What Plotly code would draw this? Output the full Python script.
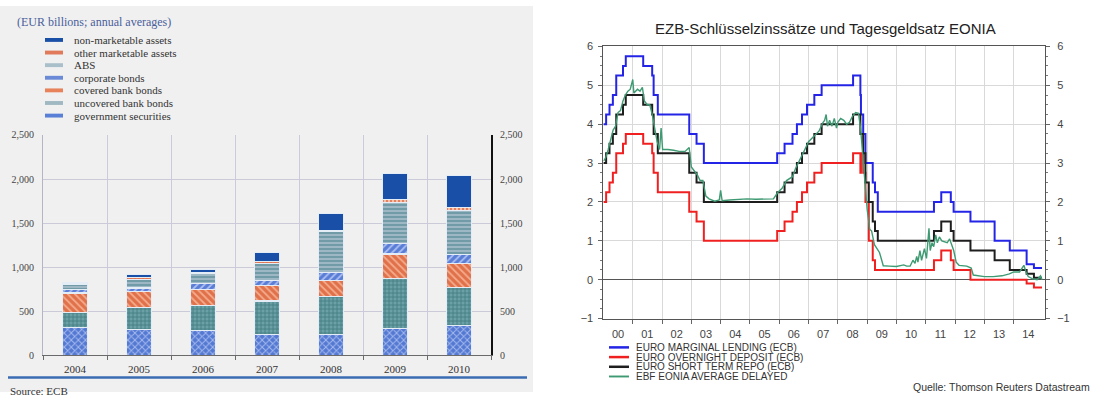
import plotly.graph_objects as go

# ---------------------------------------------------------------- data
# Left panel: Eurosystem collateral by asset type (EUR billions, annual averages)
years = ["2004", "2005", "2006", "2007", "2008", "2009", "2010"]
government_securities = [315, 295, 278, 233, 233, 307, 333]
uncovered_bank_bonds = [165, 245, 289, 382, 434, 567, 437]
covered_bank_bonds = [225, 185, 174, 174, 177, 274, 267]
corporate_bonds = [40, 37, 74, 63, 93, 122, 104]
abs_values = [60, 100, 111, 185, 463, 463, 500]
other_marketable = [5, 18, 15, 30, 19, 37, 40]
non_marketable = [15, 38, 33, 100, 185, 289, 356]

collateral_ticks = [0, 500, 1000, 1500, 2000, 2500]

# Right panel: ECB key rates (step changes) and EONIA
rate_dates = [
    "2000-01-01", "2000-02-04", "2000-03-17", "2000-04-28", "2000-06-09",
    "2000-09-01", "2000-10-06", "2001-05-11", "2001-08-31", "2001-09-18",
    "2001-11-09", "2002-12-06", "2003-03-07", "2003-06-06", "2005-12-06",
    "2006-03-08", "2006-06-15", "2006-08-09", "2006-10-11", "2006-12-13",
    "2007-03-14", "2007-06-13", "2008-07-09", "2008-10-08", "2008-10-15",
    "2008-11-12", "2008-12-10", "2009-01-21", "2009-03-11", "2009-04-08",
    "2009-05-13", "2011-04-13", "2011-07-13", "2011-11-09", "2011-12-14",
    "2012-07-11", "2013-05-08", "2013-11-13", "2014-06-11", "2014-09-10",
    "2014-12-20",
]
marginal_lending = [
    4.00, 4.25, 4.50, 4.75, 5.25, 5.50, 5.75, 5.50, 5.25, 4.75,
    4.25, 3.75, 3.50, 3.00, 3.25, 3.50, 3.75, 4.00, 4.25, 4.50,
    4.75, 5.00, 5.25, 4.75, 4.25, 3.75, 3.00, 3.00, 2.50, 2.25,
    1.75, 2.00, 2.25, 2.00, 1.75, 1.50, 1.00, 0.75, 0.40, 0.30,
    0.30,
]
overnight_deposit = [
    2.00, 2.25, 2.50, 2.75, 3.25, 3.50, 3.75, 3.50, 3.25, 2.75,
    2.25, 1.75, 1.50, 1.00, 1.25, 1.50, 1.75, 2.00, 2.25, 2.50,
    2.75, 3.00, 3.25, 2.75, 3.25, 2.75, 2.00, 1.00, 0.50, 0.25,
    0.25, 0.50, 0.75, 0.50, 0.25, 0.00, 0.00, 0.00, -0.10, -0.20,
    -0.20,
]
short_term_repo = [
    3.00, 3.25, 3.50, 3.75, 4.25, 4.50, 4.75, 4.50, 4.25, 3.75,
    3.25, 2.75, 2.50, 2.00, 2.25, 2.50, 2.75, 3.00, 3.25, 3.50,
    3.75, 4.00, 4.25, 3.75, 3.75, 3.25, 2.50, 2.00, 1.50, 1.25,
    1.00, 1.25, 1.50, 1.25, 1.00, 0.75, 0.50, 0.25, 0.15, 0.05,
    0.05,
]

eonia_dates = [
    "2000-01-03", "2000-02-01", "2000-03-01", "2000-04-01", "2000-05-01",
    "2000-06-01", "2000-07-01", "2000-08-01", "2000-09-01", "2000-10-01",
    "2000-11-01", "2000-12-01", "2001-01-01", "2001-01-15", "2001-03-01",
    "2001-04-01", "2001-05-01", "2001-05-25", "2001-07-01", "2001-08-01",
    "2001-09-01", "2001-10-01", "2001-11-01", "2001-12-01", "2001-12-20",
    "2002-01-08", "2002-03-15", "2002-05-25", "2002-08-01", "2002-10-15",
    "2002-12-05", "2003-01-01", "2003-02-05", "2003-03-15", "2003-04-20",
    "2003-05-25", "2003-07-01", "2003-08-10", "2003-10-20", "2003-12-15",
    "2004-01-01", "2004-01-20", "2004-04-20", "2004-08-10", "2004-11-25",
    "2005-03-15", "2005-07-01", "2005-10-20", "2005-12-15", "2006-02-05",
    "2006-04-01", "2006-06-15", "2006-07-20", "2006-09-10", "2006-11-05",
    "2007-01-01", "2007-03-15", "2007-05-10", "2007-07-01", "2007-07-20",
    "2007-08-08", "2007-08-25", "2007-09-20", "2007-10-20", "2007-11-18",
    "2007-12-15", "2008-01-01", "2008-02-05", "2008-03-15", "2008-04-20",
    "2008-05-25", "2008-07-01", "2008-08-10", "2008-09-15", "2008-10-12",
    "2008-11-08", "2008-12-05", "2009-01-01", "2009-02-01", "2009-02-25",
    "2009-04-01", "2009-05-08", "2009-06-03", "2009-07-01", "2009-07-20",
    "2009-10-01", "2010-01-01", "2010-04-01", "2010-05-08", "2010-06-20",
    "2010-07-25", "2010-08-20", "2010-09-10", "2010-09-25", "2010-10-20",
    "2010-11-10", "2010-12-15", "2011-01-10", "2011-02-10", "2011-02-25",
    "2011-03-20", "2011-04-10", "2011-05-05", "2011-05-25", "2011-06-20",
    "2011-07-20", "2011-08-25", "2011-09-25", "2011-10-25", "2011-11-20",
    "2011-12-15", "2012-01-15", "2012-02-20", "2012-05-25", "2012-07-20",
    "2012-08-15", "2012-10-20", "2013-01-01", "2013-04-20", "2013-08-08",
    "2013-11-08", "2014-01-01", "2014-03-15", "2014-05-08", "2014-06-03",
    "2014-07-01", "2014-08-25", "2014-10-20", "2014-12-01", "2014-12-20",
]
eonia_values = [
    3.05, 3.15, 3.35, 3.60, 3.85,
    3.95, 4.30, 4.35, 4.60, 4.75,
    4.85, 4.90, 5.15, 4.80, 4.90,
    4.85, 4.95, 4.60, 4.50, 4.50,
    4.25, 3.90, 3.55, 3.35, 3.90,
    3.35, 3.35, 3.33, 3.30, 3.30,
    3.40, 2.90, 2.80, 2.70, 2.55,
    2.55, 2.15, 2.08, 2.02, 2.05,
    2.30, 2.03, 2.05, 2.06, 2.08,
    2.07, 2.07, 2.08, 2.25, 2.35,
    2.55, 2.65, 2.85, 3.05, 3.30,
    3.55, 3.70, 3.82, 4.05, 4.10,
    4.25, 3.95, 4.10, 3.95, 4.15,
    3.90, 4.05, 4.15, 4.10, 4.00,
    4.05, 4.20, 4.30, 4.28, 3.85,
    3.20, 2.50, 1.80, 1.30, 1.25,
    0.90, 0.80, 0.70, 0.50, 0.36,
    0.35, 0.34, 0.38, 0.35, 0.35,
    0.50, 0.42, 0.60, 0.45, 0.75,
    0.50, 0.80, 0.55, 1.32, 0.75,
    0.95, 0.85, 1.15, 0.95, 1.10,
    1.00, 0.98, 0.95, 1.05, 0.90,
    0.75, 0.45, 0.37, 0.35, 0.30,
    0.12, 0.10, 0.08, 0.08, 0.10,
    0.15, 0.20, 0.20, 0.37, 0.20,
    0.08, 0.02, 0.00, 0.10, 0.00,
]

year_labels = ["00", "01", "02", "03", "04", "05", "06", "07",
               "08", "09", "10", "11", "12", "13", "14"]

# ---------------------------------------------------------------- helpers
W, H = 1095, 398


def px(x):
    return x / W


def py(y):
    return 1 - y / H


SERIF = "Liberation Serif"
SANS = "Liberation Sans"
GRID_L = "#cacad8"
GRID_R = "#d9d9d9"

fig = go.Figure()

# ---------------------------------------------------------------- left: stacked bars
bar_series = [
    ("government securities", government_securities, "x", "#5479d2", "#a6baee", 5, "#5a7fd6"),
    ("uncovered bank bonds", uncovered_bank_bonds, "+", "#6aa0a6", "#3f787f", 4, "#9fb8c2"),
    ("covered bank bonds", covered_bank_bonds, "\\", "#e0714a", "#f4ab8c", 5, "#e8825a"),
    ("corporate bonds", corporate_bonds, "/", "#5a7dd6", "#aabef0", 5, "#6a8ad8"),
    ("ABS", abs_values, "-", "#9db8c4", "#5f8e9c", 4, "#a9bfca"),
    ("other marketable assets", other_marketable, ".", "#e07550", "#f6c0a8", 4, "#e07a5a"),
    ("non-marketable assets", non_marketable, "", "#1a4fa8", "#1a4fa8", 4, "#1a4fa8"),
]

for name, vals, shape, bg, fg, size, _ in bar_series:
    fig.add_trace(go.Bar(
        x=years, y=vals, name=name, width=0.38,
        marker=dict(
            color=bg,
            line=dict(color="#e4ecf6", width=1.2),
            pattern=dict(shape=shape, bgcolor=bg, fgcolor=fg, size=size,
                         solidity=0.35, fillmode="replace"),
        ),
        showlegend=False, xaxis="x", yaxis="y",
    ))

# empty trace so the mirrored right-hand value axis gets drawn
fig.add_trace(go.Scatter(x=[None], y=[None], mode="lines", showlegend=False,
                         hoverinfo="skip", xaxis="x", yaxis="y3"))

# ---------------------------------------------------------------- right: rate lines
line_series = [
    ("EURO MARGINAL LENDING (ECB)", rate_dates, marginal_lending, "#2424e6", 2.0, "hv"),
    ("EURO OVERNIGHT DEPOSIT (ECB)", rate_dates, overnight_deposit, "#f02020", 2.0, "hv"),
    ("EURO SHORT TERM REPO (ECB)", rate_dates, short_term_repo, "#1e1e1e", 2.0, "hv"),
    ("EBF EONIA AVERAGE DELAYED", eonia_dates, eonia_values, "#3e9a72", 1.4, "linear"),
]

for name, xs, ys, color, width, lshape in line_series:
    fig.add_trace(go.Scatter(
        x=xs, y=ys, name=name, mode="lines",
        line=dict(color=color, width=width, shape=lshape),
        showlegend=False, xaxis="x2", yaxis="y2",
    ))

# empty trace so the right-hand percent axis gets drawn
fig.add_trace(go.Scatter(x=[None], y=[None], mode="lines", showlegend=False,
                         hoverinfo="skip", xaxis="x2", yaxis="y4"))

# ---------------------------------------------------------------- axes
mid_years = [f"20{lab}-07-02" for lab in year_labels]
year_starts = [f"20{lab}-01-01" for lab in year_labels[1:]]

fig.update_layout(
    width=W, height=H,
    margin=dict(l=0, r=0, t=0, b=0),
    paper_bgcolor="white",
    plot_bgcolor="rgba(0,0,0,0)",
    barmode="stack",
    showlegend=False,
    xaxis=dict(
        domain=[px(43), px(491)], anchor="y", type="category",
        range=[-0.5, 6.5], tickson="boundaries",
        showgrid=True, gridcolor=GRID_L, gridwidth=1,
        showline=True, linecolor="#6a6a6a", linewidth=1,
        ticks="outside", ticklen=4, tickcolor="#6a6a6a",
        ticklabelstandoff=4,
        tickfont=dict(family=SERIF, size=11, color="#333"),
        zeroline=False, fixedrange=True,
    ),
    yaxis=dict(
        domain=[py(360), py(133)], anchor="x",
        range=[0, 2500], tickvals=collateral_ticks, tickformat=",d",
        showgrid=True, gridcolor=GRID_L, gridwidth=1,
        showline=True, linecolor="#b4b4c4", linewidth=1,
        ticks="", ticklabelstandoff=6,
        tickfont=dict(family=SERIF, size=10, color="#444"),
        zeroline=False,
    ),
    yaxis3=dict(
        overlaying="y", side="right", anchor="x",
        range=[0, 2500], tickvals=collateral_ticks, tickformat=",d",
        showgrid=False, showline=True, linecolor="#111", linewidth=2,
        ticks="", ticklabelstandoff=5,
        tickfont=dict(family=SERIF, size=10, color="#444"),
        zeroline=False,
    ),
    xaxis2=dict(
        domain=[px(603.4), px(1045)], anchor="y2", type="date",
        range=["2000-01-01", "2015-01-26"],
        tickmode="array", tickvals=mid_years, ticktext=year_labels,
        showgrid=False, ticks="",
        minor=dict(tickmode="array", tickvals=year_starts, showgrid=True,
                   gridcolor=GRID_R, gridwidth=1, ticks="outside",
                   ticklen=4, tickcolor="#666"),
        showline=True, linecolor="#555", linewidth=1, mirror=True,
        tickfont=dict(family=SANS, size=11, color="#444"),
        ticklabelstandoff=5,
    ),
    yaxis2=dict(
        domain=[py(322.3), py(41.7)], anchor="x2",
        range=[-1, 6], dtick=1,
        showgrid=True, gridcolor=GRID_R, gridwidth=1,
        zeroline=True, zerolinecolor="#555", zerolinewidth=1,
        showline=True, linecolor="#555", linewidth=1,
        ticks="outside", ticklen=4, tickcolor="#666",
        minor=dict(dtick=0.25, ticks="outside", ticklen=2, tickcolor="#777",
                   showgrid=False),
        tickfont=dict(family=SANS, size=11, color="#444"),
        ticklabelstandoff=3,
    ),
    yaxis4=dict(
        overlaying="y2", side="right", anchor="x2",
        range=[-1, 6], dtick=1, showgrid=False, zeroline=False,
        showline=True, linecolor="#555", linewidth=1,
        ticks="outside", ticklen=4, tickcolor="#666",
        minor=dict(dtick=0.25, ticks="outside", ticklen=2, tickcolor="#777"),
        tickfont=dict(family=SANS, size=11, color="#444"),
        ticklabelstandoff=5,
    ),
)

# ---------------------------------------------------------------- decorations
shapes = [
    # grey backdrop of the collateral panel
    dict(type="rect", xref="paper", yref="paper", x0=0, x1=px(533), y0=0, y1=1,
         fillcolor="#f0f0f0", line=dict(width=0), layer="below"),
    # blue rule under the category labels
    dict(type="line", xref="paper", yref="paper", x0=px(8), x1=px(527),
         y0=py(383), y1=py(383), line=dict(color="#3a6cb4", width=2.5)),
]
annotations = [
    dict(text="(EUR billions; annual averages)", xref="paper", yref="paper",
         x=px(15), y=py(16), xanchor="left", yanchor="middle", showarrow=False,
         font=dict(family=SERIF, size=12, color="#4a5f9c")),
    dict(text="Source: ECB", xref="paper", yref="paper",
         x=px(8), y=py(389), xanchor="left", yanchor="top", showarrow=False,
         font=dict(family=SERIF, size=11, color="#333")),
    dict(text="EZB-Schlüsselzinssätze und Tagesgeldsatz EONIA", xref="paper",
         yref="paper", x=px(825), y=py(23), xanchor="center", yanchor="middle",
         showarrow=False, font=dict(family=SANS, size=15, color="#222")),
    dict(text="Quelle: Thomson Reuters Datastream", xref="paper", yref="paper",
         x=px(1092), y=py(393), xanchor="right", yanchor="middle", showarrow=False,
         font=dict(family=SANS, size=10.5, color="#333")),
]

# legend of the collateral panel (top entry = top of the stack)
for i, (name, _, _, _, _, _, swatch) in enumerate(reversed(bar_series)):
    yrow = 35 + 13 * i
    shapes.append(dict(type="rect", xref="paper", yref="paper",
                       x0=px(45), x1=px(63), y0=py(yrow + 2), y1=py(yrow - 2),
                       fillcolor=swatch, line=dict(width=0)))
    annotations.append(dict(text=name, xref="paper", yref="paper",
                            x=px(72), y=py(yrow), xanchor="left", yanchor="middle",
                            showarrow=False,
                            font=dict(family=SERIF, size=11, color="#333")))

# legend of the rates panel
for i, (name, _, _, color, width, _) in enumerate(line_series):
    yrow = 352 + 10 * i
    shapes.append(dict(type="line", xref="paper", yref="paper",
                       x0=px(609), x1=px(629), y0=py(yrow), y1=py(yrow),
                       line=dict(color=color, width=width + 0.5)))
    annotations.append(dict(text=name, xref="paper", yref="paper",
                            x=px(634), y=py(yrow), xanchor="left", yanchor="middle",
                            showarrow=False,
                            font=dict(family=SANS, size=10, color="#333")))

fig.update_layout(shapes=shapes, annotations=annotations)

fig.write_html("out.html")
